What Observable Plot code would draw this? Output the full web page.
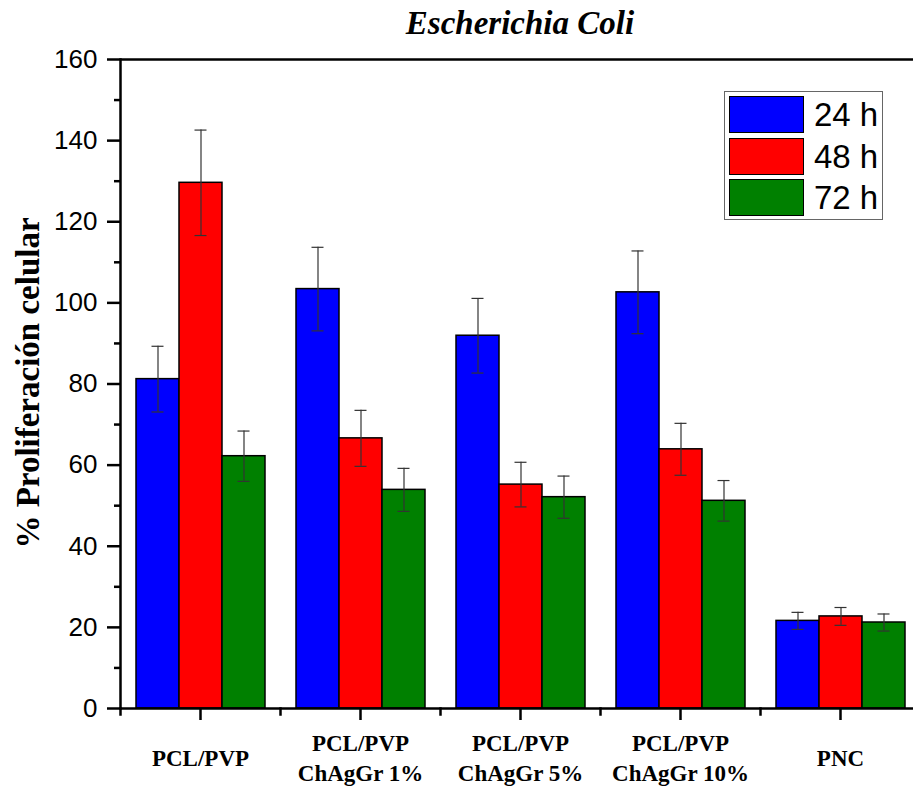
<!DOCTYPE html>
<html>
<head>
<meta charset="utf-8">
<script src="https://cdn.jsdelivr.net/npm/d3@7"></script>
<script src="https://cdn.jsdelivr.net/npm/@observablehq/plot@0.6"></script>
<style>
  html, body { margin: 0; padding: 0; background: #fff; overflow: hidden; color: #000; }
  #wrap { position: relative; width: 913px; height: 786px; overflow: hidden; }
  #title { position: absolute; left: 0; width: 1040px; top: 4px; text-align: center; line-height: 1.2;
           font-family: "Liberation Serif", "Times New Roman", serif; font-weight: bold; font-style: italic; font-size: 33px; }
  #ylabel { position: absolute; left: 28px; top: 383px; transform: translate(-50%, -50%) rotate(-90deg); white-space: nowrap;
            font-family: "Liberation Serif", "Times New Roman", serif; font-weight: bold; font-size: 33px; line-height: 1; }
  #legend { position: absolute; left: 724px; top: 91px; width: 159px; height: 129px; border: 1px solid #666; background: #fff; box-sizing: border-box; }
  .li { position: absolute; left: 4px; height: 37px; display: flex; align-items: center; }
  .sw { width: 75px; height: 37px; border: 1px solid #000; box-sizing: border-box; }
  .lt { margin-left: 10px; font-family: "Liberation Sans", Arial, sans-serif; font-size: 33px; line-height: 1; }
</style>
</head>
<body>
<div id="wrap"></div>
<script>
// ---- data ----
const categories = ["PCL/PVP", "PCL/PVP\nChAgGr 1%", "PCL/PVP\nChAgGr 5%", "PCL/PVP\nChAgGr 10%", "PNC"];
const series = ["24 h", "48 h", "72 h"];
const colors = ["#0000ff", "#ff0000", "#008000"];
const v24 = [81.2, 103.4, 91.9, 102.6, 21.6];
const v48 = [129.6, 66.6, 55.2, 63.9, 22.7];
const v72 = [62.2, 53.9, 52.1, 51.2, 21.2];
const e24 = [8.1, 10.3, 9.2, 10.2, 2.1];
const e48 = [13.0, 6.9, 5.5, 6.4, 2.2];
const e72 = [6.2, 5.3, 5.2, 5.0, 2.1];
const majorTicks = [0, 20, 40, 60, 80, 100, 120, 140, 160];
const minorTicks = [10, 30, 50, 70, 90, 110, 130, 150];
const yLabel = "% Proliferación celular";
const title = "Escherichia Coli";

const vals = [v24, v48, v72];
const errs = [e24, e48, e72];
const data = [];
categories.forEach((c, i) => series.forEach((s, j) => {
  data.push({cat: c, series: s, value: vals[j][i], err: errs[j][i]});
}));

const serif = "Liberation Serif, Times New Roman, serif";
const sans = "Liberation Sans, Arial, sans-serif";

const chart = Plot.plot({
  width: 921,
  height: 786,
  marginLeft: 118,
  marginRight: 0,
  marginTop: 59,
  marginBottom: 78,
  style: {maxWidth: "none", overflow: "visible", background: "transparent"},
  fx: {domain: categories, padding: 0, axis: null},
  x: {domain: series, paddingInner: 0, paddingOuter: 0.36, axis: null},
  y: {domain: [0, 160], axis: null},
  color: {domain: series, range: colors},
  marks: [
    Plot.barY(data, {fx: "cat", x: "series", y: "value", fill: "series", stroke: "#000", strokeWidth: 1.5}),
    Plot.ruleX(data, {fx: "cat", x: "series", y1: d => d.value - d.err, y2: d => d.value + d.err, stroke: "#333", strokeWidth: 1.2}),
    Plot.tickY(data, {fx: "cat", x: "series", y: d => d.value + d.err, stroke: "#333", strokeWidth: 1.2, insetLeft: 15.5, insetRight: 15.5}),
    Plot.tickY(data, {fx: "cat", x: "series", y: d => d.value - d.err, stroke: "#333", strokeWidth: 1.2, insetLeft: 15.5, insetRight: 15.5}),
    Plot.ruleY([0, 160], {stroke: "#000", strokeWidth: 2.5}),
    Plot.frame({anchor: "left", facetAnchor: "left", stroke: "#000", strokeWidth: 2.5}),
    Plot.frame({anchor: "left", stroke: "#000", strokeWidth: 2.5, insetTop: 649, insetBottom: -6}),
    Plot.axisY({ticks: majorTicks, tickSize: 13, tickPadding: 10, tickFormat: d => String(d), label: null,
                strokeWidth: 2.5, fontSize: 26, fontFamily: sans}),
    Plot.axisY({ticks: minorTicks, tickSize: 6, tickFormat: () => "", label: null, strokeWidth: 2.5}),
    Plot.axisFx({anchor: "bottom", tickSize: 12, tickFormat: () => "", label: null, strokeWidth: 2.5}),
    Plot.text(categories, {fx: d => d, text: d => d, frameAnchor: "bottom", dy: 48, lineAnchor: "middle",
                           fontSize: 23, fontWeight: "bold", fontFamily: serif, lineHeight: 1.3, fill: "#000"})
  ]
});

const wrap = document.getElementById("wrap");
wrap.appendChild(chart);

const t = document.createElement("div");
t.id = "title";
t.textContent = title;
wrap.appendChild(t);

const yl = document.createElement("div");
yl.id = "ylabel";
yl.textContent = yLabel;
wrap.appendChild(yl);

const lg = document.createElement("div");
lg.id = "legend";
series.forEach((s, j) => {
  const li = document.createElement("div");
  li.className = "li";
  li.style.top = (4 + j * 41.5) + "px";
  const sw = document.createElement("div");
  sw.className = "sw";
  sw.style.background = colors[j];
  const lt = document.createElement("span");
  lt.className = "lt";
  lt.textContent = s;
  li.appendChild(sw);
  li.appendChild(lt);
  lg.appendChild(li);
});
wrap.appendChild(lg);
</script>
</body>
</html>
